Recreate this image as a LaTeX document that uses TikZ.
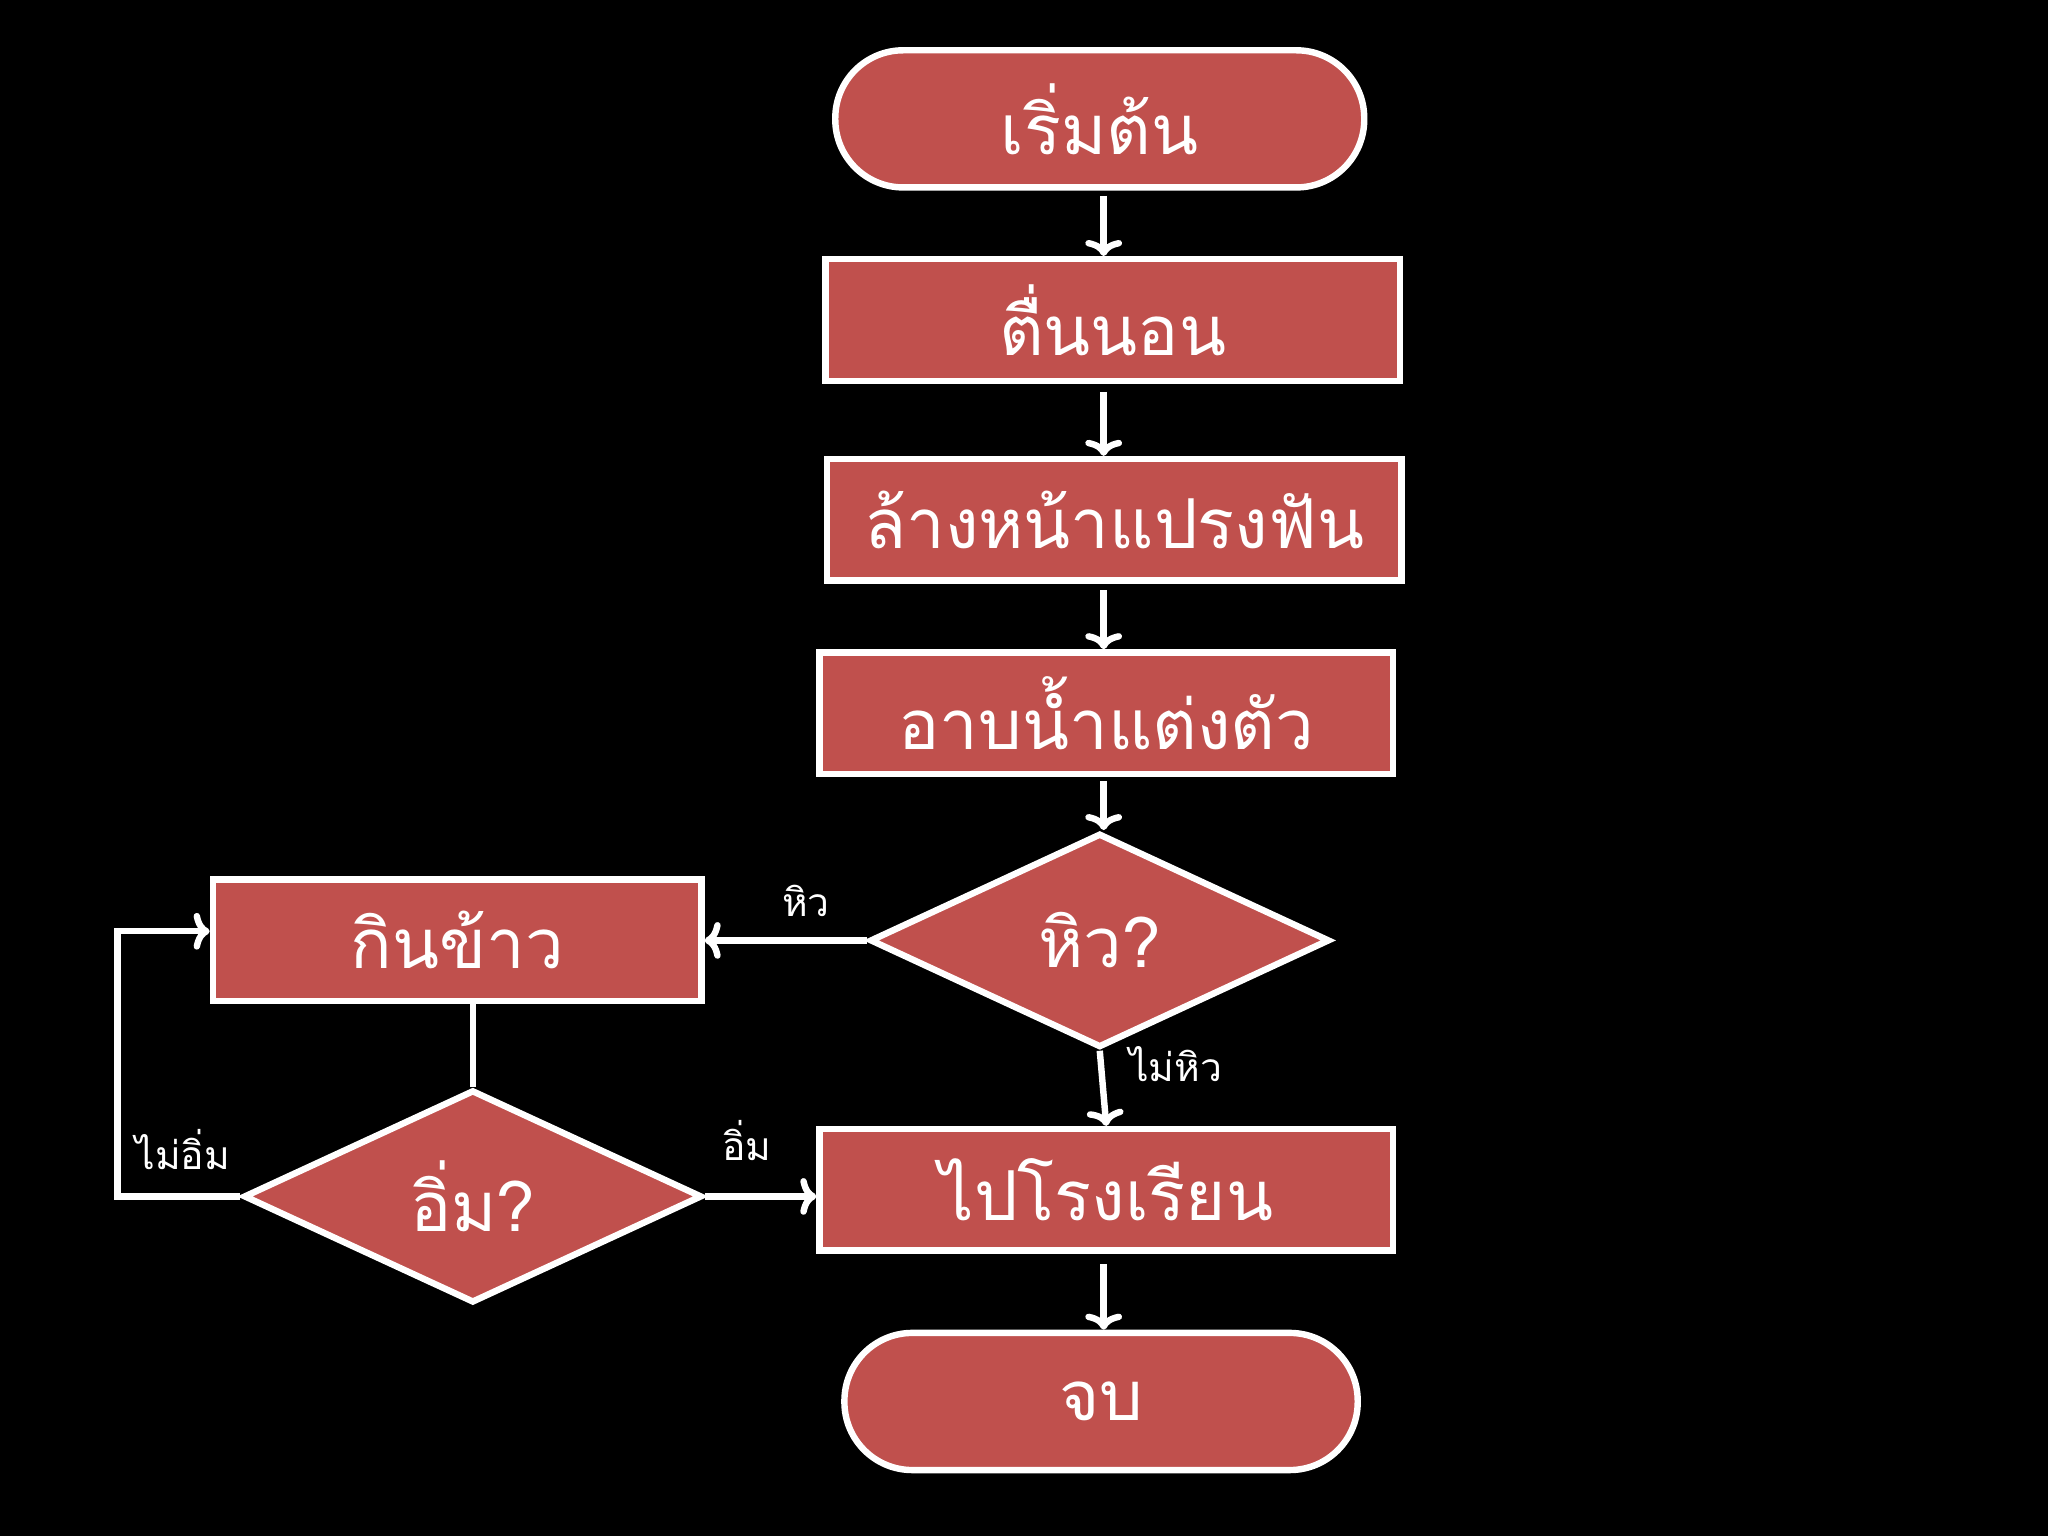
\documentclass[tikz,border=0pt]{standalone}
\usepackage{fontspec}
\newfontfamily\thaifont[Script=Thai]{Loma}
\usetikzlibrary{shapes.geometric,arrows.meta}
\definecolor{boxred}{RGB}{192,80,77}
\begin{document}
\begin{tikzpicture}[x=0.02cm,y=-0.02cm,
  base/.style={draw=white,line width=2.8pt,fill=boxred,text=white,font=\thaifont\fontsize{30}{34}\selectfont,inner sep=0pt},
  procbox/.style={base,rectangle,minimum width=#1*0.02cm,minimum height=93*0.02cm},
  term/.style={base,rectangle,rounded corners=52*0.02cm,minimum width=#1*0.02cm,minimum height=105*0.02cm},
  decide/.style={base,diamond,aspect=2.15,minimum width=352*0.02cm,minimum height=164*0.02cm},
  conn/.style={draw=white,line width=2.8pt,-{To[length=7pt,width=16pt,line width=2.8pt]}},
  plain/.style={draw=white,line width=2.8pt},
  lbl/.style={text=white,font=\thaifont\fontsize{17}{20}\selectfont}]
\fill[black] (0,0) rectangle (1568,1176);
\node[term=405] (start) at (842,91) {เริ่มต้น};
\node[procbox=440] (wake) at (852,245) {ตื่นนอน};
\node[procbox=440] (wash) at (853,398) {ล้างหน้าแปรงฟัน};
\node[procbox=439] (bath) at (847,546) {อาบน้ำแต่งตัว};
\node[decide] (hungry) at (842,720) {หิว?};
\node[procbox=374] (eat) at (350,720) {กินข้าว};
\node[decide,minimum width=351*0.02cm,minimum height=163*0.02cm] (full) at (362,916) {อิ่ม?};
\node[procbox=439] (school) at (847,911) {ไปโรงเรียน};
\node[term=393] (stop) at (843,1073) {จบ};
\coordinate (a1) at (845,150); \coordinate (a2) at (845,300); \coordinate (a3) at (845,452);
\coordinate (a4) at (845,598); \coordinate (a5) at (845,968);
\draw[conn] (a1) -- (wake.north -| a1);
\draw[conn] (a2) -- (wash.north -| a2);
\draw[conn] (a3) -- (bath.north -| a3);
\draw[conn] (a4) -- (hungry.north -| a4);
\draw[conn] (a5) -- (stop.north -| a5);
\draw[conn] (hungry.west) -- (eat.east);
\draw[conn] (hungry.south) -- (school.north);
\draw[plain] (eat.south -| full.north) -- (full.north);
\draw[conn] (full.east) -- (school.west |- full.east);
\coordinate (c1) at (90,916); \coordinate (c2) at (90,713);
\draw[conn] (full.west) -- (c1) -- (c2) -- (eat.west |- c2);
\node[lbl] (l1) at (617,690) {หิว};
\node[lbl] (l2) at (900,815) {ไม่หิว};
\node[lbl] (l3) at (572,873) {อิ่ม};
\node[lbl] (l4) at (140,880) {ไม่อิ่ม};
\end{tikzpicture}
\end{document}
